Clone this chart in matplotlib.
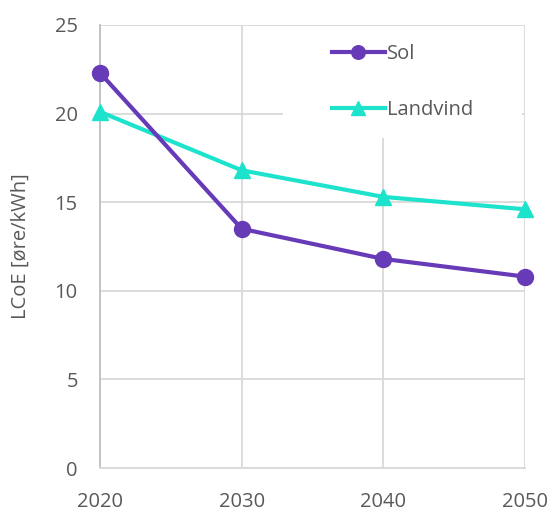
import matplotlib
matplotlib.use("Agg")
import matplotlib.pyplot as plt
from matplotlib.patches import Rectangle

years = [2020, 2030, 2040, 2050]
sol = [22.3, 13.5, 11.8, 10.8]
landvind = [20.1, 16.8, 15.3, 14.6]
y_ticks = [0, 5, 10, 15, 20, 25]

plt.rcParams['font.family'] = ['Open Sans', 'DejaVu Sans']
text_color = '#595959'
grid_color = '#D9D9D9'
fs = 14.5

fig = plt.figure(figsize=(5.51, 5.11), dpi=100)
ax = fig.add_axes([100/551, 43/511, 425/551, 443/511])

ax.plot(years, sol, color='#673AB7', lw=3, marker='o', ms=11.5,
        label='Sol', clip_on=False, zorder=4)
ax.plot(years, landvind, color='#1EE3CC', lw=3, marker='^', ms=11.5,
        label='Landvind', clip_on=False, zorder=3)

ax.set_xlim(2020, 2050)
ax.set_ylim(0, 25)
ax.set_xticks(years)
ax.set_yticks(y_ticks)
ax.grid(True, color=grid_color, lw=1.3, zorder=0)
ax.set_axisbelow(True)
for side in ['top', 'right']:
    ax.spines[side].set_visible(False)
ax.spines['left'].set_color('#BFBFBF')
ax.spines['left'].set_linewidth(1.3)
ax.spines['bottom'].set_color(grid_color)
ax.spines['bottom'].set_linewidth(1.3)
ax.tick_params(length=0, labelsize=fs, colors=text_color)
ax.tick_params(axis='x', pad=17)
ax.tick_params(axis='y', pad=16)
ax.set_ylabel('LCoE [øre/kWh]', fontsize=fs, color=text_color, labelpad=17)

# white panel behind the legend, covering the grid
ax.add_patch(Rectangle((0.4306, 0.745), 0.5624, 0.252, transform=ax.transAxes,
                       facecolor='white', edgecolor='none', zorder=2))

leg = ax.legend(loc='upper left', bbox_to_anchor=(0.545, 0.956),
                frameon=False, fontsize=fs, labelcolor=text_color,
                labelspacing=1.75, handlelength=2.65, handletextpad=0.1,
                borderpad=0, borderaxespad=0, markerscale=0.85)
leg.set_zorder(5)

fig.savefig('out.png', dpi=100)
